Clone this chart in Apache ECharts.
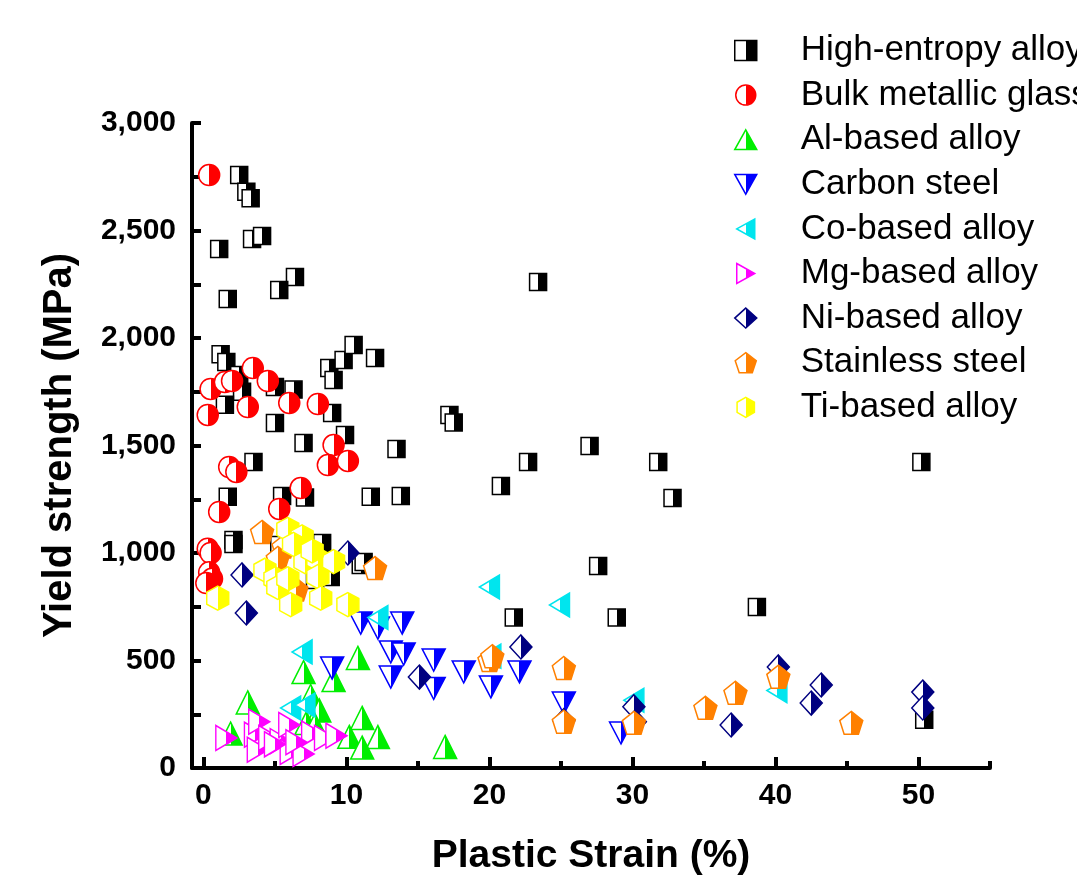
<!DOCTYPE html>
<html>
<head>
<meta charset="utf-8">
<script src="https://cdn.jsdelivr.net/npm/echarts@6/dist/echarts.min.js"></script>
<style>
  html, body { margin: 0; padding: 0; background: #fff; }
  #chart { width: 1077px; height: 877px; }
</style>
</head>
<body>
<div id="chart"></div>
<script>
// [plastic strain %, yield strength MPa]
const highEntropy = [[2.5,2758],[3.0,2680],[3.3,2650],[1.1,2414],[3.4,2460],[4.1,2474],[6.4,2284],[5.3,2223],[1.7,2181],[23.4,2260],
  [1.2,1925],[1.6,1888],[2.5,1828],[2.7,1750],[1.5,1690],[5.0,1772],[6.3,1760],[5.0,1605],[7.0,1512],[3.5,1423],
  [8.8,1860],[9.1,1805],[9.8,1898],[10.5,1967],[12.0,1907],[9.0,1651],[9.9,1549],[13.5,1484],[1.7,1262],[5.5,1265],
  [7.1,1258],[11.7,1262],[13.8,1265],[17.2,1642],[17.5,1607],[20.8,1312],[22.7,1423],[27.0,1498],[31.8,1423],[32.8,1256],
  [27.6,940],[21.7,700],[28.9,700],[38.7,749],[50.2,1423],[50.4,225],[2.1,1060],[2.1,1042],[5.3,1037],[8.3,1047],
  [7.8,874],[8.9,888],[11.0,944],[11.2,958]];
const bulkGlass = [[0.4,2758],[0.5,1763],[1.5,1795],[2.0,1800],[3.45,1860],[4.5,1800],[3.1,1679],[0.3,1642],[6.0,1698],
  [8.0,1693],[1.8,1400],[2.3,1377],[9.1,1502],[8.7,1409],[10.1,1428],[6.8,1302],[1.1,1191],[5.3,1205],
  [0.3,1020],[0.5,1000],[0.4,910],[0.6,880],[0.2,860]];
const alBased = [[7.0,446],[9.1,409],[10.8,512],[3.1,305],[7.5,335],[8.1,268],[7.2,209],[1.9,160],[11.1,233],
  [10.2,145],[12.2,144],[11.1,95],[16.9,98],[7.8,200]];
const carbonSteel = [[11.0,674],[12.2,651],[13.9,674],[13.1,540],[14.0,530],[13.1,423],[9.0,465],[16.1,502],
  [16.1,370],[18.2,447],[20.1,377],[22.1,447],[25.2,302],[29.2,163]];
const coBased = [[12.2,700],[6.9,540],[6.1,279],[7.1,293],[20.0,842],[24.9,758],[20.1,520],[30.1,315],[40.1,360]];
const mgBased = [[1.6,140],[3.6,155],[3.9,215],[3.8,85],[4.6,140],[5.4,125],[6.0,200],[6.1,75],[7.0,65],
  [7.6,160],[8.5,140],[9.3,150],[5.0,110],[6.5,120]];
const niBased = [[2.7,898],[3.0,721],[10.1,1000],[15.1,423],[22.2,563],[36.9,200],[40.2,470],[43.2,386],
  [42.5,302],[50.3,353],[50.3,279],[25.2,220],[30.1,285],[30.2,215]];
const stainless = [[4.1,1098],[5.6,1030],[5.2,977],[6.5,830],[12.0,930],[20.0,502],[25.2,465],[25.2,215],
  [30.1,210],[35.1,280],[37.2,350],[40.2,425],[45.3,210],[20.2,520]];
const tiBased = [[1.0,790],[4.3,920],[5.0,880],[5.2,840],[5.9,880],[5.9,1110],[6.9,1075],[7.1,960],[8.0,970],
  [9.1,960],[8.0,890],[6.1,760],[8.2,790],[10.1,760],[6.3,1040],[7.6,1010]];

const xMajorTicks = [0, 10, 20, 30, 40, 50];
const xMinorTicks = [5, 15, 25, 35, 45, 55];
const yLabels = [0, 500, 1000, 1500, 2000, 2500, 3000];

const FONT = '"Liberation Sans", Arial, sans-serif';

function halfFill(c) {
  return {
    type: 'linear', x: 0, y: 0, x2: 1, y2: 0,
    colorStops: [
      { offset: 0, color: '#fff' }, { offset: 0.5, color: '#fff' },
      { offset: 0.5, color: c }, { offset: 1, color: c }
    ]
  };
}

const groups = [
  { name: 'High-entropy alloy', data: highEntropy, color: '#000000', symbol: 'rect', size: 17 },
  { name: 'Bulk metallic glass', data: bulkGlass, color: '#ff0000', symbol: 'circle', size: 21 },
  { name: 'Al-based alloy', data: alBased, color: '#00ee00', symbol: 'path://M5,0L10,9L0,9z', size: [23, 23] },
  { name: 'Carbon steel', data: carbonSteel, color: '#0000ff', symbol: 'path://M0,0L10,0L5,9z', size: [23, 22] },
  { name: 'Co-based alloy', data: coBased, color: '#00e5ee', symbol: 'path://M0,5L9,0L9,10z', size: [20, 24] },
  { name: 'Mg-based alloy', data: mgBased, color: '#ff00ff', symbol: 'path://M0,0L9,5L0,10z', size: [21, 25] },
  { name: 'Ni-based alloy', data: niBased, color: '#000080', symbol: 'diamond', size: [22, 24] },
  { name: 'Stainless steel', data: stainless, color: '#ff8000', symbol: 'path://M5,0L10,3.8L8.1,9.5L1.9,9.5L0,3.8z', size: 23 },
  { name: 'Ti-based alloy', data: tiBased, color: '#ffff00', symbol: 'path://M5,0L9.33,2.5L9.33,7.5L5,10L0.67,7.5L0.67,2.5z', size: [22, 24] }
];

const chart = echarts.init(document.getElementById('chart'));

const option = {
  animation: false,
  backgroundColor: '#fff',
  grid: { left: 192, right: 87, top: 123, bottom: 109, outerBoundsMode: 'none', containLabel: false },
  legend: {
    orient: 'vertical',
    left: 729,
    top: 28,
    itemWidth: 22,
    itemHeight: 20,
    itemGap: 9.6,
    textStyle: { fontFamily: FONT, fontSize: 35, color: '#000', lineHeight: 34, padding: [0, 0, 0, 39] },
    data: groups.map(g => ({ name: g.name, itemStyle: { color: halfFill(g.color), borderColor: g.color, borderWidth: 1.5 } }))
  },
  xAxis: [
    {
      type: 'value', min: -0.8, max: 55,
      name: 'Plastic Strain (%)', nameLocation: 'middle', nameGap: 69,
      nameTextStyle: { fontFamily: FONT, fontSize: 39, fontWeight: 'bold', color: '#000' },
      axisLine: { onZero: false, lineStyle: { color: '#000', width: 4 } },
      axisTick: { inside: true, length: 11, lineStyle: { color: '#000', width: 4 }, customValues: xMajorTicks },
      axisLabel: { fontFamily: FONT, fontSize: 30, fontWeight: 'bold', color: '#000', margin: 13, customValues: xMajorTicks },
      splitLine: { show: false }
    },
    {
      type: 'value', min: -0.8, max: 55, position: 'bottom',
      axisLine: { show: false, onZero: false },
      axisTick: { inside: true, length: 7, lineStyle: { color: '#000', width: 4 }, customValues: xMinorTicks },
      axisLabel: { show: false },
      splitLine: { show: false }
    }
  ],
  yAxis: {
    type: 'value', min: 0, max: 3000, interval: 250,
    name: 'Yield strength (MPa)', nameLocation: 'middle', nameGap: 112,
    nameTextStyle: { fontFamily: FONT, fontSize: 40, fontWeight: 'bold', color: '#000' },
    axisLine: { show: true, onZero: false, lineStyle: { color: '#000', width: 4 } },
    axisTick: { show: true, inside: true, length: 9, lineStyle: { color: '#000', width: 4 } },
    axisLabel: {
      fontFamily: FONT, fontSize: 30, fontWeight: 'bold', color: '#000', margin: 16,
      customValues: yLabels,
      formatter: v => v.toLocaleString('en-US')
    },
    splitLine: { show: false }
  },
  series: groups.map(g => ({
    name: g.name,
    type: 'scatter',
    data: g.data,
    symbol: g.symbol,
    symbolSize: g.size,
    itemStyle: { color: halfFill(g.color), borderColor: g.color, borderWidth: 1.5, opacity: 1 }
  }))
};

chart.setOption(option);
window.addEventListener('resize', () => {
  chart.resize();
});
</script>
</body>
</html>
